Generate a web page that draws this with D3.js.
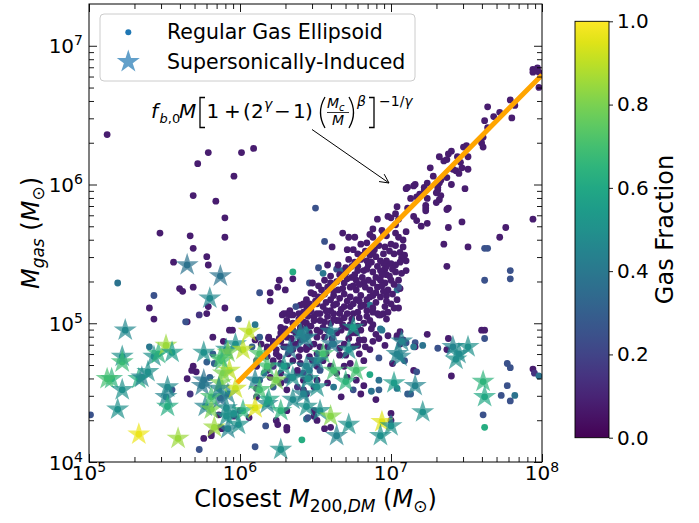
<!DOCTYPE html>
<html>
<head>
<meta charset="utf-8">
<script src="https://cdn.jsdelivr.net/npm/d3@7"></script>
<style>
body { margin: 0; background: #fff; }
svg text { font-family: "DejaVu Sans", sans-serif; fill: #000; }
</style>
</head>
<body>
<div id="chart"></div>
<script>
// tick exponents / colorbar ticks
var xTickExp = [5, 6, 7, 8];
var yTickExp = [4, 5, 6, 7];
var cbarTicks = [0, 0.2, 0.4, 0.6, 0.8, 1.0];

// fitted relation (log10 values)
var fitLogM = [5.98, 6.5, 7.0, 7.5, 8.0];
var fitLogMgas = [4.57, 5.14, 5.69, 6.24, 6.79];

// regular gas ellipsoids: [log10 M200,DM, log10 Mgas, gas fraction]
var ellipsoids = [
[5.12,6.36,.08],[5.79,6.23,.08],[5.72,6.15,.08],[6.01,6.23,.08],[6.09,6.26,.08],[5.96,6.06,.08],
[5.69,5.92,.08],[5.84,5.88,.08],[5.90,5.76,.08],[5.47,5.65,.08],[5.67,5.63,.08],[5.90,5.62,.08],
[5.69,5.54,.08],[5.78,5.48,.08],[5.79,5.42,.08],[5.56,5.44,.08],[6.50,5.83,.25],[5.19,5.29,.38],
[5.60,5.25,.08],[5.62,5.23,.08],[5.69,5.26,.08],[5.43,5.20,.25],[5.40,5.11,.08],[5.79,5.12,.08],
[5.90,5.11,.08],[5.73,5.06,.15],[5.78,5.07,.08],[5.43,5.03,.08],[6.35,5.37,.62],[6.35,5.32,.08],
[6.26,5.31,.08],[6.25,5.26,.08],[6.13,5.22,.25],[6.20,5.22,.08],[6.20,5.16,.08],[6.46,5.29,.25],
[6.52,5.40,.25],
[7.94,6.83,.08],[7.97,6.84,.08],[7.98,6.81,.08],[7.94,6.81,.08],[7.98,6.70,.08],[7.94,5.75,.08],
[7.79,6.61,.08],[7.82,6.57,.08],[7.80,6.48,.08],[7.72,6.52,.08],
[7.64,6.56,.08],[7.68,6.49,.08],[7.62,6.46,.08],[7.64,6.41,.08],
[7.61,6.34,.08],[7.60,6.30,.08],[7.61,6.27,.08],
[7.50,6.28,.08],[7.48,6.27,.08],[7.51,6.20,.08],[7.44,6.20,.08],[7.40,6.24,.08],
[7.32,6.20,.08],[7.35,6.17,.08],[7.38,6.22,.08],[7.37,6.18,.08],[7.46,6.16,.08],[7.41,6.11,.08],[7.47,6.12,.08],
[7.43,6.10,.08],[7.45,6.08,.08],[7.51,6.11,.08],
[7.26,6.12,.08],[7.28,6.06,.08],[7.32,6.01,.08],[7.31,5.96,.08],[7.32,5.89,.08],[7.30,5.87,.08],
[7.37,6.05,.08],[7.33,6.03,.08],[7.40,6.00,.08],[7.31,5.98,.08],[7.22,5.98,.08],[7.16,6.00,.08],[7.11,5.98,.08],
[7.30,5.94,.08],[7.33,5.92,.08],[7.49,5.97,.08],[7.24,6.01,.08],[7.22,5.96,.08],
[7.15,5.99,.08],[7.10,5.97,.08],[7.13,5.90,.08],[7.17,5.91,.08],[7.19,5.93,.08],[7.24,5.90,.08],[7.23,5.85,.08],[7.11,5.83,.08],
[7.38,5.83,.08],[7.37,5.82,.08],[7.23,5.83,.08],[7.23,5.81,.08],[7.47,5.73,.08],
[7.15,5.77,.08],[7.17,5.74,.08],[7.20,5.70,.08],[7.24,5.72,.08],[7.38,5.69,.08],
[7.76,5.69,.08],[7.72,5.62,.08],[7.35,5.57,.08],[7.51,5.55,.08],[7.62,5.54,.25],[7.64,5.54,.25],
[7.37,5.41,.08],[7.79,5.38,.25],[7.79,5.32,.25],[7.62,5.31,.25],
[7.04,5.84,.08],[7.03,5.79,.08],[7.00,5.76,.08],[6.98,5.77,.08],[7.05,5.75,.08],[7.03,5.71,.08],
[6.91,5.75,.08],[6.94,5.67,.08],[6.88,5.68,.08],[6.86,5.64,.08],[6.88,5.62,.08],[6.95,5.65,.08],[6.97,5.63,.08],
[7.03,5.65,.08],[7.05,5.62,.08],[7.08,5.60,.08],[7.10,5.66,.08],[7.00,5.57,.08],[7.03,5.56,.08],[7.08,5.55,.08],
[7.06,5.51,.08],[7.09,5.49,.08],[7.10,5.45,.08],[7.02,5.50,.08],[6.97,5.45,.08],[7.00,5.43,.08],[6.96,5.39,.08],
[7.03,5.42,.08],[7.03,5.37,.08],[6.97,5.35,.08],[7.00,5.31,.08],[6.96,5.29,.08],[6.93,5.31,.08],[6.91,5.26,.08],
[6.98,5.24,.08],[6.93,5.19,.08],[6.97,5.20,.08],[7.04,5.24,.40],[7.06,5.25,.08],
[6.56,5.59,.25],[6.61,5.55,.08],[6.68,5.65,.08],[6.72,5.62,.08],[6.76,5.62,.08],[6.71,5.53,.08],[6.75,5.53,.08],
[6.67,5.38,.35],[6.64,5.39,.25],[6.74,5.41,.08],[6.30,5.24,.08],[6.55,5.36,.40],[6.56,5.31,.08],[6.54,5.24,.08],[6.58,5.26,.08],
[6.81,5.49,.08],[6.84,5.45,.08],[6.85,5.42,.08],[6.86,5.49,.08],[6.91,5.41,.08],[6.90,5.48,.08],[6.93,5.45,.08],
[6.82,5.38,.08],[6.78,5.38,.08],[6.81,5.33,.08],[6.85,5.31,.08],[6.82,5.29,.08],[6.77,5.31,.08],[6.74,5.33,.08],
[6.71,5.32,.08],[6.69,5.29,.08],[6.73,5.26,.08],[6.77,5.24,.08],[6.80,5.20,.08],[6.86,5.24,.08],[6.88,5.20,.08],
[6.84,5.17,.08],[6.77,5.17,.08],[6.73,5.19,.08],[6.69,5.21,.08],[6.65,5.24,.08],[6.62,5.20,.08],[6.60,5.17,.08],
[6.64,5.14,.08],[6.69,5.12,.08],[6.73,5.12,.08],[6.80,5.12,.08],[6.86,5.13,.40],[6.91,5.07,.08],[6.93,5.06,.08],
[6.55,5.12,.08],[6.53,5.07,.08],[6.58,5.05,.08],[6.62,5.07,.08],[6.66,5.07,.08],[6.64,5.02,.08],[6.60,5.00,.08],
[6.55,4.97,.08],[6.49,5.05,.08],[6.44,5.12,.08],[6.40,5.13,.08],[6.42,5.08,.08],[6.37,5.12,.25],[6.33,5.09,.08],
[6.35,5.06,.08],[6.29,5.07,.08],[6.31,5.02,.08],[7.05,5.11,.08],[7.24,4.92,.08],[6.93,4.96,.40],[7.05,5.31,.08],[7.10,5.38,.08],
[7.04,5.17,.08],[7.02,5.11,.08],[6.95,5.07,.08],[6.92,5.06,.08],[6.87,4.96,.08],[6.94,4.95,.40],[7.06,4.94,.08],
[7.06,4.85,.08],[6.82,4.88,.08],[6.86,4.81,.08],[6.92,4.75,.25],[6.82,4.73,.08],[7.01,4.71,.08],[7.15,4.66,.08],[6.86,4.63,.60],
[6.97,5.41,.08],[6.93,5.38,.08],[7.05,5.26,.25],
[6.44,5.17,.08],[6.42,5.14,.08],[6.49,5.21,.08],[6.48,5.29,.08],[6.58,5.42,.08],
[6.51,5.07,.08],[6.60,5.09,.08],[6.66,5.02,.08],[6.71,4.97,.08],[6.64,4.93,.08],[6.58,4.95,.08],[6.51,4.90,.08],
[6.77,4.93,.08],[6.82,5.00,.08],[6.84,5.09,.08],[6.75,5.07,.08],[6.46,4.83,.08],[6.53,4.83,.08],[6.62,4.85,.40],
[6.69,4.85,.08],[6.75,4.83,.08],[6.70,4.77,.08],[6.44,4.97,.40],[6.40,4.95,.08],
[5.65,5.01,.08],[6.28,5.06,.08],[6.31,5.07,.08],[6.33,5.06,.08],[6.27,4.97,.08],[6.39,5.03,.08],[6.51,5.14,.08],
[6.10,4.99,.40],[5.82,4.90,.08],[5.89,4.87,.08],[5.95,4.95,.08],[6.08,4.83,.30],[6.10,4.88,.08],[6.14,4.85,.08],
[6.19,4.90,.08],[6.18,4.83,.08],[6.22,4.85,.08],[6.27,4.87,.08],[6.24,4.81,.08],[6.31,4.83,.08],[6.35,4.81,.08],
[6.40,4.88,.08],[6.44,4.81,.08],[6.49,4.85,.08],
[5.69,4.69,.08],[5.71,4.65,.08],[5.68,4.66,.08],[5.65,4.60,.08],[5.67,4.49,.15],[5.78,4.72,.30],[5.80,4.61,.30],
[6.18,4.66,.08],[6.22,4.69,.15],[6.27,4.64,.08],[6.31,4.69,.08],[6.33,4.61,.30],[6.38,4.64,.08],[6.27,4.57,.08],
[6.22,4.54,.30],[6.31,4.52,.08],[6.38,4.54,.15],[6.42,4.59,.08],[6.46,4.66,.40],[6.44,4.49,.08],[6.49,4.54,.08],
[6.13,4.59,.30],[6.11,4.53,.08],[6.31,4.37,.08],[6.24,4.30,.08],[6.44,4.31,.40],[6.49,4.37,.08],
[6.27,4.93,.08],[6.31,4.90,.08],[6.35,4.95,.08],[6.40,4.97,.08],[6.44,5.00,.08],[6.49,5.02,.08],[6.51,4.95,.08],[6.46,4.93,.08],
[6.35,4.73,.08],[6.40,4.71,.08],[6.48,4.73,.08],[6.51,4.69,.08],[6.42,4.52,.08],
[6.11,4.73,.08],[6.18,4.76,.08],[6.22,4.73,.08],[6.27,4.71,.08],
[5.64,5.01,.25],[5.99,5.03,.30],[5.40,4.83,.40],[5.01,4.34,.25],[5.55,4.52,.25],[5.73,4.09,.25],[5.82,4.78,.30],
[5.83,4.71,.30],[6.10,4.11,.25],[5.81,4.19,.08],
[6.17,4.26,.25],[6.41,4.16,.62],[6.31,4.25,.08],[6.31,4.23,.08],[6.49,4.33,.08],[6.56,4.24,.08],[6.60,4.25,.08],
[5.93,4.95,.08],[5.86,4.34,.08],[5.96,4.33,.08],[5.87,4.25,.08],[5.88,4.24,.08],[5.81,4.21,.08],[5.76,4.17,.08],
[6.06,4.32,.08],[6.00,4.37,.08],[6.25,4.27,.08],[6.11,4.47,.08],
[7.16,4.86,.25],[7.21,4.84,.38],[7.16,4.83,.08],[7.31,4.82,.25],[7.38,4.89,.08],[7.37,4.81,.08],[7.09,4.73,.25],
[7.17,4.65,.25],[7.13,4.49,.30],[7.40,4.62,.08],[7.60,4.95,.08],[7.62,4.95,.08],[7.62,4.89,.25],[7.77,4.71,.25],
[7.79,4.68,.25],[7.77,4.55,.25],[7.73,4.48,.25],[7.79,4.44,.25],[7.82,4.48,.38],[7.94,4.67,.08],[7.95,4.64,.15],
[7.98,4.62,.38],[7.61,4.34,.25],[7.62,4.25,.62],
[6.96,4.84,.08],[6.92,4.89,.08],[7.04,4.90,.08],[7.08,4.88,.08],[7.10,4.86,.25],[7.15,4.83,.40],
[6.13,4.90,.30],[6.19,4.89,.08],[6.22,4.87,.08],[6.18,4.81,.08],[6.24,4.78,.08],
[6.29,4.83,.08],[6.35,4.85,.25],[6.40,4.81,.08],[6.44,4.83,.08],[6.46,4.76,.08],[6.51,4.78,.08],[6.55,4.73,.08],
[6.53,4.66,.25],[6.60,4.69,.08],[6.64,4.64,.08],[6.69,4.69,.08],[6.73,4.71,.08],[6.71,4.61,.08],[6.77,4.59,.08],
[6.75,4.52,.25],[6.82,4.55,.08],[6.80,4.49,.08],[6.67,4.47,.08],[6.62,4.54,.40],[6.58,4.57,.08],[6.51,4.59,.08],
[6.46,4.61,.08],[6.42,4.64,.25],[6.38,4.66,.08],[6.35,4.61,.08],[6.31,4.59,.25],[6.27,4.57,.08],[6.20,4.61,.08],
[6.16,4.64,.40],[6.11,4.69,.08],
[6.45,4.32,.25],[6.51,4.30,.08],[7.00,4.35,.08],[7.00,4.30,.08],[6.92,4.52,.30],[6.90,4.45,.08],[6.87,4.51,.38],
[6.92,4.59,.38],[7.04,4.53,.40],[7.11,4.49,.30],[6.98,4.91,.08],[7.04,4.91,.08],
// dense core below the relation
[6.80,5.57,.08],[6.84,5.58,.08],[6.92,5.56,.08],[6.96,5.55,.08],[6.89,5.53,.08],
[6.78,5.50,.08],[6.83,5.52,.08],[6.88,5.51,.08],[6.95,5.50,.08],[6.99,5.52,.08],[7.07,5.47,.08],
[6.72,5.46,.08],[6.76,5.44,.08],[6.80,5.46,.08],[6.87,5.44,.08],[6.95,5.43,.08],[7.06,5.44,.08],
[6.65,5.42,.08],[6.70,5.40,.08],[6.78,5.41,.08],[6.84,5.39,.08],[6.88,5.37,.08],[6.94,5.35,.08],[7.01,5.39,.08],[7.07,5.36,.08],
[6.60,5.34,.08],[6.66,5.35,.08],[6.70,5.36,.08],[6.76,5.35,.08],[6.90,5.33,.08],[6.99,5.34,.08],
[6.60,5.29,.08],[6.64,5.30,.08],[6.79,5.28,.08],[6.88,5.29,.08],[6.94,5.27,.08],[7.02,5.28,.08],
[6.52,5.27,.08],[6.62,5.23,.08],[6.68,5.25,.08],[6.75,5.27,.08],[6.83,5.26,.08],[6.90,5.22,.08],[6.95,5.23,.08],[7.01,5.21,.08],
[6.47,5.22,.08],[6.52,5.19,.08],[6.56,5.21,.08],[6.66,5.18,.08],[6.71,5.16,.08],[6.79,5.16,.08],[6.86,5.19,.08],[6.90,5.15,.08],[6.97,5.16,.08],
[6.46,5.14,.08],[6.50,5.16,.08],[6.57,5.15,.08],[6.62,5.13,.08],[6.75,5.14,.08],[6.82,5.13,.08],[6.88,5.11,.08],[6.96,5.12,.08],[7.00,5.14,.08],
[6.47,5.09,.08],[6.57,5.09,.08],[6.67,5.10,.08],[6.71,5.07,.08],[6.78,5.08,.08],[6.84,5.05,.08],[6.88,5.08,.08],[6.98,5.08,.08],
[6.39,5.07,.08],[6.45,5.05,.08],[6.53,5.02,.08],[6.62,5.03,.08],[6.69,5.04,.08],[6.74,5.03,.08],[6.79,5.04,.08],[6.86,5.02,.08],[6.97,5.03,.08],
[6.35,5.00,.08],[6.42,5.01,.08],[6.47,4.98,.08],[6.56,5.01,.08],[6.68,4.99,.08],[6.73,4.99,.08],[6.78,4.98,.08],[6.88,4.99,.08],
[6.30,4.96,.08],[6.37,4.93,.08],[6.53,4.94,.08],[6.67,4.95,.08],[6.74,4.93,.08],[6.80,4.95,.08],[6.90,4.92,.08],
[6.26,4.89,.08],[6.34,4.89,.08],[6.56,4.90,.08],[6.61,4.89,.08],[6.72,4.89,.08],[6.79,4.88,.08],[6.88,4.87,.08],
[6.37,4.85,.08],[6.58,4.83,.08],[6.66,4.82,.08],[6.78,4.84,.08],[6.83,4.83,.08],
[6.26,4.76,.08],[6.32,4.78,.08],[6.39,4.76,.08],[6.57,4.78,.08],[6.66,4.77,.08],[6.79,4.78,.08]
];

// supersonically-induced objects: [log10 M200,DM, log10 Mgas, gas fraction]
var supersonic = [
[5.65,5.42,.38],[5.87,5.34,.38],[5.80,5.18,.47],
[5.24,4.95,.47],[5.22,4.76,.50],[5.22,4.72,.68],[5.15,4.60,.65],[5.12,4.60,.70],[5.22,4.52,.50],[5.19,4.38,.50],
[5.33,4.60,.62],[5.35,4.61,.45],[5.39,4.65,.50],[5.43,4.76,.50],[5.46,4.78,.65],[5.51,4.84,.85],[5.55,4.79,.55],
[5.52,4.54,.48],[5.51,4.47,.45],[5.52,4.40,.62],[5.33,4.20,.97],[5.59,4.17,.85],
[5.76,4.79,.50],[5.76,4.59,.38],[5.75,4.55,.40],[5.77,4.40,.45],[5.81,4.38,.80],[5.88,4.73,.70],[5.97,4.85,.50],
[6.06,4.94,.90],[5.92,4.49,.45],[5.87,4.46,.35],[5.91,4.39,.48],[5.99,4.27,.50],[5.92,4.24,.45],[5.83,4.25,.85],
[5.97,4.53,.92],[6.02,4.37,.65],[6.10,4.39,.95],[5.87,4.57,.80],[5.93,4.66,.90],[5.91,4.81,.50],
[5.92,4.79,.80],[6.02,4.81,.90],[5.87,4.75,.70],[5.89,4.64,.80],[5.81,4.47,.70],[5.86,4.53,.45],
[6.18,4.69,.70],[6.10,4.59,.45],[6.13,4.52,.70],[5.91,4.33,.50],[5.96,4.35,.50],[6.27,4.37,.65],[6.35,4.45,.48],
[6.44,4.40,.50],[6.18,4.42,.45],[6.29,4.69,.55],[6.24,4.59,.80],[6.44,4.90,.45],[6.33,4.81,.40],[6.51,4.54,.50],
[6.13,4.78,.72],[6.19,4.45,.60],[6.42,4.89,.40],[6.35,4.61,.50],[6.45,4.60,.50],[6.42,4.49,.45],[6.53,4.37,.50],
[6.60,4.33,.82],[6.61,4.85,.40],[6.55,4.78,.70],[6.70,4.58,.65],[6.77,4.66,.70],[6.75,4.97,.55],[6.72,4.81,.50],
[6.64,4.19,.45],[6.72,4.27,.50],[6.27,4.09,.50],[7.02,4.57,.55],[7.16,4.55,.45],[7.07,4.87,.45],[7.04,4.78,.45],
[6.94,4.29,.95],[7.00,4.26,.50],[6.93,4.19,.50],
[7.06,4.76,.45],[7.21,4.36,.50],[7.41,4.83,.45],[7.51,4.83,.50],[7.43,4.74,.50],[7.45,4.78,.48],[7.61,4.58,.65],[7.62,4.47,.60],
[6.40,4.93,.45],[6.60,4.94,.45],[6.51,4.73,.45],[6.62,4.66,.70],[6.44,4.69,.45]
];

var width = 699, height = 523;
var plotL = 89, plotR = 542, plotT = 4, plotB = 462;

var svg = d3.select('#chart').append('svg')
    .attr('width', width)
    .attr('height', height);

var x = d3.scaleLog().domain([1e5, 1e8]).range([plotL, plotR]);
var y = d3.scaleLog().domain([1e4, 2e7]).range([plotB, plotT]);
var color = d3.scaleSequential(d3.interpolateViridis).domain([0, 1]);
var px = function(d) { return x(Math.pow(10, d[0])); };
var py = function(d) { return y(Math.pow(10, d[1])); };

svg.append('clipPath').attr('id', 'plotclip')
  .append('rect')
    .attr('x', plotL).attr('y', plotT)
    .attr('width', plotR - plotL).attr('height', plotB - plotT);

var plot = svg.append('g').attr('clip-path', 'url(#plotclip)');

// regular ellipsoids
plot.selectAll('circle.ell')
    .data(ellipsoids)
    .enter()
    .append('circle')
        .attr('class', 'ell')
        .attr('cx', px)
        .attr('cy', py)
        .attr('r', 3.4)
        .style('fill', function(d) { return color(d[2]); });

// supersonic objects also appear as a dot under their star
plot.selectAll('circle.sup')
    .data(supersonic)
    .enter()
    .append('circle')
        .attr('class', 'sup')
        .attr('cx', px)
        .attr('cy', py)
        .attr('r', 3.4)
        .style('fill', function(d) { return color(d[2]); });

var star = d3.symbol().type(d3.symbolStar).size(165);
plot.selectAll('path.star')
    .data(supersonic)
    .enter()
    .append('path')
        .attr('class', 'star')
        .attr('d', star)
        .attr('transform', function(d) { return 'translate(' + px(d) + ',' + py(d) + ')'; })
        .style('fill', function(d) { return color(d[2]); })
        .style('fill-opacity', 0.7);

// fitted relation
var fitPts = fitLogM.map(function(m, i) { return [m, fitLogMgas[i]]; });
plot.append('path')
    .datum(fitPts)
    .attr('d', d3.line().x(px).y(py))
    .style('fill', 'none')
    .style('stroke', '#ffa500')
    .style('stroke-width', 5);

// axes: ticks pointing inward on all four sides
function minors(lo, hi, max) {
    var out = [];
    for (var e = lo; e < hi; e++) {
        for (var k = 2; k < 10; k++) {
            var v = k * Math.pow(10, e);
            if (v < max) out.push(v);
        }
    }
    return out;
}
var xMajor = xTickExp.map(function(e) { return Math.pow(10, e); });
var yMajor = yTickExp.map(function(e) { return Math.pow(10, e); });
var xMinor = minors(5, 8, 1e8);
var yMinor = minors(4, 8, 2e7);

function drawAxis(axisFn, scale, vals, len, tx, ty) {
    var g = svg.append('g')
        .attr('transform', 'translate(' + tx + ',' + ty + ')')
        .call(axisFn(scale).tickValues(vals).tickSize(-len).tickSizeOuter(0).tickFormat(function() { return ''; }));
    g.select('.domain').remove();
    g.selectAll('.tick line').style('stroke', '#000').style('stroke-width', 0.9);
}
drawAxis(d3.axisBottom, x, xMajor, 8, 0, plotB);
drawAxis(d3.axisBottom, x, xMinor, 5, 0, plotB);
drawAxis(d3.axisTop, x, xMajor, 8, 0, plotT);
drawAxis(d3.axisTop, x, xMinor, 5, 0, plotT);
drawAxis(d3.axisLeft, y, yMajor, 8, plotL, 0);
drawAxis(d3.axisLeft, y, yMinor, 5, plotL, 0);
drawAxis(d3.axisRight, y, yMajor, 8, plotR, 0);
drawAxis(d3.axisRight, y, yMinor, 5, plotR, 0);

svg.append('rect')
    .attr('x', plotL).attr('y', plotT)
    .attr('width', plotR - plotL).attr('height', plotB - plotT)
    .style('fill', 'none')
    .style('stroke', '#000')
    .style('stroke-width', 1);

function powLabel(sel, e) {
    sel.append('tspan').text('10');
    sel.append('tspan').attr('dy', -8).attr('font-size', 14).text(e);
}
xTickExp.forEach(function(e) {
    svg.append('text')
        .attr('x', x(Math.pow(10, e)))
        .attr('y', plotB + 18)
        .attr('text-anchor', 'middle')
        .attr('font-size', 20)
        .call(powLabel, e);
});
yTickExp.forEach(function(e) {
    svg.append('text')
        .attr('x', plotL - 6)
        .attr('y', y(Math.pow(10, e)) + 7.5)
        .attr('text-anchor', 'end')
        .attr('font-size', 20)
        .call(powLabel, e);
});

// axis labels
var xl = svg.append('text')
    .attr('x', (plotL + plotR) / 2)
    .attr('y', 507)
    .attr('text-anchor', 'middle')
    .attr('font-size', 24);
xl.append('tspan').text('Closest ');
xl.append('tspan').attr('font-style', 'italic').text('M');
xl.append('tspan').attr('font-size', 17).attr('dy', 5).text('200,');
xl.append('tspan').attr('font-size', 17).attr('font-style', 'italic').text('DM');
xl.append('tspan').attr('dy', -5).text(' (');
xl.append('tspan').attr('font-style', 'italic').text('M');
xl.append('tspan').attr('font-size', 17).attr('dy', 5).text('\u2299');
xl.append('tspan').attr('dy', -5).text(')');

var yl = svg.append('text')
    .attr('transform', 'translate(39,' + ((plotT + plotB) / 2) + ') rotate(-90)')
    .attr('text-anchor', 'middle')
    .attr('font-size', 24);
yl.append('tspan').attr('font-style', 'italic').text('M');
yl.append('tspan').attr('font-style', 'italic').attr('font-size', 17).attr('dy', 5).text('gas');
yl.append('tspan').attr('dy', -5).text(' (');
yl.append('tspan').attr('font-style', 'italic').text('M');
yl.append('tspan').attr('font-size', 17).attr('dy', 5).text('\u2299');
yl.append('tspan').attr('dy', -5).text(')');

// colorbar
var cbX = 575, cbW = 34, cbT = 21.3, cbB = 437.7;
var grad = svg.append('defs').append('linearGradient')
    .attr('id', 'viridis')
    .attr('x1', 0).attr('y1', 1).attr('x2', 0).attr('y2', 0);
d3.range(0, 1.0001, 0.05).forEach(function(t) {
    grad.append('stop').attr('offset', t).attr('stop-color', color(t));
});
svg.append('rect')
    .attr('x', cbX).attr('y', cbT)
    .attr('width', cbW).attr('height', cbB - cbT)
    .style('fill', 'url(#viridis)')
    .style('stroke', '#000')
    .style('stroke-width', 0.9);
var cy = d3.scaleLinear().domain([0, 1]).range([cbB, cbT]);
var cbAxis = svg.append('g')
    .attr('transform', 'translate(' + (cbX + cbW) + ',0)')
    .call(d3.axisRight(cy).tickValues(cbarTicks).tickSize(4).tickPadding(4).tickFormat(d3.format('.1f')));
cbAxis.select('.domain').remove();
cbAxis.selectAll('.tick line').style('stroke', '#000').style('stroke-width', 0.9);
cbAxis.selectAll('.tick text')
    .attr('font-size', 20)
    .style('font-family', '"DejaVu Sans", sans-serif')
    .attr('fill', '#000');
svg.append('text')
    .attr('transform', 'translate(673,' + ((cbT + cbB) / 2) + ') rotate(-90)')
    .attr('text-anchor', 'middle')
    .attr('font-size', 24)
    .text('Gas Fraction');

// legend
var lg = svg.append('g');
lg.append('rect')
    .attr('x', 100).attr('y', 14)
    .attr('width', 315).attr('height', 67)
    .attr('rx', 4)
    .style('fill', '#fff').style('fill-opacity', 0.8)
    .style('stroke', '#ccc').style('stroke-width', 1);
lg.append('circle').attr('cx', 128.3).attr('cy', 32.3).attr('r', 3).style('fill', '#1f77b4');
lg.append('path')
    .attr('d', star)
    .attr('transform', 'translate(128.3,61.7)')
    .style('fill', '#1f77b4').style('fill-opacity', 0.7);
lg.append('text').attr('x', 167).attr('y', 39).attr('font-size', 20.5).text('Regular Gas Ellipsoid');
lg.append('text').attr('x', 167).attr('y', 68.5).attr('font-size', 20.5).text('Supersonically-Induced');

// formula annotation
var fg = svg.append('g');
function mt(txt, tx, ty, size, ital) {
    return fg.append('text')
        .attr('x', tx).attr('y', ty)
        .attr('font-size', size)
        .attr('font-style', ital ? 'italic' : 'normal')
        .text(txt);
}
function stroke(d) {
    fg.append('path').attr('d', d)
        .style('fill', 'none').style('stroke', '#000').style('stroke-width', 1.3);
}
mt('f', 151, 118, 20, true);
var sb = mt('', 159.5, 123, 13, true);
sb.append('tspan').text('b');
sb.append('tspan').attr('font-style', 'normal').text(',0');
mt('M', 179, 118, 20, true);
stroke('M205,97.5 L200,97.5 L200,127.5 L205,127.5');
mt('1', 206.5, 118, 20, false);
mt('+', 224, 118, 20, false);
mt('(', 243, 118, 20, false);
mt('2', 251, 118, 20, false);
mt('\u03b3', 264, 109, 14, true);
mt('\u2212', 274, 118, 20, false);
mt('1', 293, 118, 20, false);
mt(')', 305, 118, 20, false);
stroke('M325,97 Q316,112.5 325,128');
mt('M', 327, 108, 14, true);
mt('c', 339, 111, 10, true);
fg.append('line').attr('x1', 327).attr('x2', 349).attr('y1', 112.5).attr('y2', 112.5)
    .style('stroke', '#000').style('stroke-width', 0.8);
mt('M', 332, 125, 14, true);
stroke('M349,97 Q358,112.5 349,128');
mt('\u03b2', 357, 106, 14, true);
stroke('M369,97.5 L374,97.5 L374,127.5 L369,127.5');
var ex = mt('\u22121/', 379, 106, 14, false);
ex.append('tspan').attr('font-style', 'italic').text('\u03b3');

// arrow
var a0 = [312, 129.5], a1 = [389, 183];
var dx = a1[0] - a0[0], dy = a1[1] - a0[1], dl = Math.sqrt(dx * dx + dy * dy);
var ux = dx / dl, uy = dy / dl, hl = 9, hw = 4.5;
fg.append('path')
    .attr('d', 'M' + a0 + 'L' + a1 +
        'M' + (a1[0] - hl * ux - hw * uy) + ',' + (a1[1] - hl * uy + hw * ux) +
        'L' + a1 +
        'L' + (a1[0] - hl * ux + hw * uy) + ',' + (a1[1] - hl * uy - hw * ux))
    .style('fill', 'none').style('stroke', '#000').style('stroke-width', 1);
</script>
</body>
</html>
